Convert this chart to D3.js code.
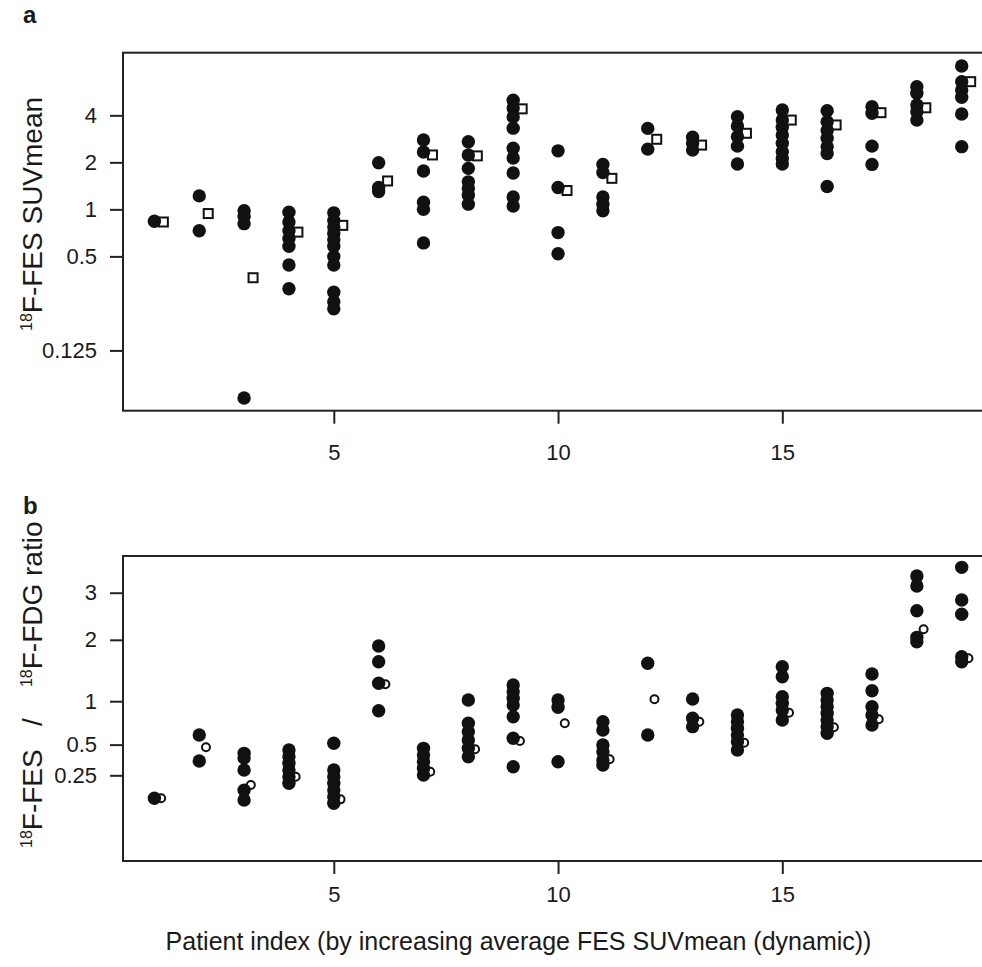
<!DOCTYPE html>
<html>
<head>
<meta charset="utf-8">
<script src="https://cdn.jsdelivr.net/npm/d3@7"></script>
<style>
  body { margin: 0; background: #fff; }
  text { font-family: "Liberation Sans", Arial, sans-serif; fill: #1a1a1a; white-space: pre; }
</style>
</head>
<body>
<div id="chart"></div>
<script>
// patient index 1..19
let patients = [1, 2, 3, 4, 5, 6, 7, 8, 9, 10, 11, 12, 13, 14, 15, 16, 17, 18, 19];

// panel a: 18F-FES SUVmean per lesion (filled) and dynamic mean (open squares)
let suvLesions = [
    [0.84],
    [1.22, 0.73],
    [0.98, 0.90, 0.81, 0.062],
    [0.96, 0.83, 0.73, 0.65, 0.58, 0.44, 0.31],
    [0.95, 0.85, 0.77, 0.70, 0.64, 0.58, 0.50, 0.44, 0.295, 0.256, 0.231],
    [1.99, 1.38, 1.30],
    [2.78, 2.33, 1.76, 1.11, 1.0, 0.61],
    [2.71, 2.23, 1.83, 1.5, 1.36, 1.23, 1.08],
    [5.0, 4.45, 3.9, 3.31, 2.46, 2.13, 1.71, 1.2, 1.05],
    [2.37, 1.38, 0.71, 0.52],
    [1.94, 1.72, 1.2, 1.08, 0.98],
    [3.3, 2.43],
    [2.9, 2.66, 2.4],
    [3.92, 3.42, 2.92, 2.54, 1.95],
    [4.33, 3.73, 3.35, 2.99, 2.65, 2.34, 2.12, 1.95],
    [4.28, 3.64, 3.2, 2.85, 2.52, 2.28, 1.4],
    [4.54, 4.12, 2.54, 1.94],
    [6.1, 5.53, 4.66, 4.22, 3.73],
    [8.28, 6.57, 5.81, 5.22, 4.08, 2.52]
];
let suvDynamic = [0.83, 0.94, 0.365, 0.715, 0.79, 1.52, 2.23, 2.2, 4.4, 1.32,
                  1.58, 2.81, 2.58, 3.07, 3.73, 3.47, 4.16, 4.47, 6.57];

// panel b: FES / FDG ratio per lesion (filled) and patient mean (open circles)
let ratioLesions = [
    [0.119],
    [0.596, 0.356],
    [0.42, 0.38, 0.287, 0.16, 0.111],
    [0.45, 0.391, 0.338, 0.287, 0.241, 0.199],
    [0.513, 0.287, 0.24, 0.199, 0.161, 0.126, 0.097],
    [1.884, 1.604, 1.256, 0.876],
    [0.465, 0.406, 0.35, 0.30, 0.252],
    [1.016, 0.724, 0.631, 0.545, 0.465, 0.391],
    [1.23, 1.132, 1.04, 0.949, 0.802, 0.562, 0.311],
    [1.016, 0.919, 0.35],
    [0.743, 0.649, 0.496, 0.435, 0.364, 0.324],
    [1.577, 0.596],
    [1.03, 0.783, 0.686],
    [0.823, 0.743, 0.668, 0.596, 0.528, 0.45],
    [1.52, 1.358, 1.062, 0.972, 0.886, 0.762],
    [1.109, 1.016, 0.927, 0.843, 0.762, 0.686, 0.614],
    [1.4, 1.147, 0.927, 0.823, 0.705],
    [3.403, 3.159, 2.594, 2.048, 1.964],
    [3.623, 2.832, 2.517, 1.691, 1.604]
];
let ratioMean = [0.119, 0.475, 0.189, 0.24, 0.114, 1.241, 0.275, 0.456, 0.535, 0.724,
                 0.37, 1.026, 0.743, 0.518, 0.851, 0.679, 0.771, 2.206, 1.663];

let xTicks = [5, 10, 15];
let suvTicks = [0.125, 0.5, 1, 2, 4];
let ratioTicks = [0.25, 0.5, 1, 2, 3];

let WIDTH = 982,
    HEIGHT = 967;

let svg = d3.select("#chart")
    .append("svg")
    .attr("width", WIDTH)
    .attr("height", HEIGHT)
    .style("display", "block");

svg.append("rect").attr("width", WIDTH).attr("height", HEIGHT).attr("fill", "#fff");

let left = 123, right = 994;

let x = d3.scaleLinear().domain([0.3, 19.72]).range([left, right]);

let boxA = { top: 52.7, bottom: 410.7 };
let boxB = { top: 556, bottom: 861 };

let yA = d3.scaleLog().base(2).domain([0.0514, 10.07]).range([boxA.bottom, boxA.top]);
let yB = d3.scaleSqrt().domain([0, 3.92]).range([849.4, boxB.top]);

function flatten(lesions) {
    let out = [];
    lesions.forEach((vals, i) => vals.forEach(v => out.push({ p: patients[i], v: v })));
    return out;
}

function drawPanel(box, y, ticks, label, labelY) {
    let g = svg.append("g");

    g.append("rect")
        .attr("x", left)
        .attr("y", box.top)
        .attr("width", right - left)
        .attr("height", box.bottom - box.top)
        .attr("fill", "none")
        .attr("stroke", "#222")
        .attr("stroke-width", 2);

    let yAxis = g.append("g")
        .attr("transform", `translate(${left},0)`)
        .call(d3.axisLeft(y).tickValues(ticks).tickFormat(d => d).tickSize(13).tickPadding(13));

    let xAxis = g.append("g")
        .attr("transform", `translate(0,${box.bottom})`)
        .call(d3.axisBottom(x).tickValues(xTicks).tickSize(13).tickPadding(label === "a" ? 21 : 12));

    [yAxis, xAxis].forEach(ax => {
        ax.select(".domain").remove();
        ax.selectAll(".tick line").attr("stroke", "#222").attr("stroke-width", 2);
        ax.selectAll(".tick text")
            .attr("fill", "#1a1a1a")
            .style("font-family", '"Liberation Sans", Arial, sans-serif')
            .style("font-size", "22px");
    });

    svg.append("text")
        .attr("x", 23)
        .attr("y", labelY)
        .style("font-size", "24px")
        .style("font-weight", "bold")
        .text(label);

    return g;
}

let gA = drawPanel(boxA, yA, suvTicks, "a", 23);
let gB = drawPanel(boxB, yB, ratioTicks, "b", 514);

// open markers first, filled lesion points on top
gA.selectAll(".dyn")
    .data(suvDynamic)
    .enter()
    .append("rect")
    .attr("x", (d, i) => x(patients[i] + 0.2) - 4.5)
    .attr("y", d => yA(d) - 4.5)
    .attr("width", 9)
    .attr("height", 9)
    .attr("fill", "#fff")
    .attr("stroke", "#111")
    .attr("stroke-width", 2);

gA.selectAll(".lesion")
    .data(flatten(suvLesions))
    .enter()
    .append("circle")
    .attr("cx", d => x(d.p))
    .attr("cy", d => yA(d.v))
    .attr("r", 6.7)
    .attr("fill", "#111");

gB.selectAll(".mean")
    .data(ratioMean)
    .enter()
    .append("circle")
    .attr("cx", (d, i) => x(patients[i] + 0.15))
    .attr("cy", d => yB(d))
    .attr("r", 4)
    .attr("fill", "#fff")
    .attr("stroke", "#111")
    .attr("stroke-width", 2);

gB.selectAll(".lesion")
    .data(flatten(ratioLesions))
    .enter()
    .append("circle")
    .attr("cx", d => x(d.p))
    .attr("cy", d => yB(d.v))
    .attr("r", 6.7)
    .attr("fill", "#111");

// axis titles
let titleA = svg.append("text")
    .attr("transform", "translate(42,331) rotate(-90)")
    .style("font-size", "28px");
titleA.append("tspan").attr("dy", -10).style("font-size", "16px").text("18");
titleA.append("tspan").attr("dy", 10).text("F-FES SUVmean");

let titleB = svg.append("text")
    .attr("transform", "translate(42,848) rotate(-90)")
    .style("font-size", "28px");
titleB.append("tspan").attr("dy", -10).style("font-size", "16px").text("18");
titleB.append("tspan").attr("dy", 10).text("F-FES   /    ");
titleB.append("tspan").attr("dy", -10).style("font-size", "16px").text("18");
titleB.append("tspan").attr("dy", 10).text("F-FDG ratio");

svg.append("text")
    .attr("x", (165 + 872) / 2)
    .attr("y", 950)
    .attr("text-anchor", "middle")
    .style("font-size", "25px")
    .text("Patient index (by increasing average FES SUVmean (dynamic))");
</script>
</body>
</html>
